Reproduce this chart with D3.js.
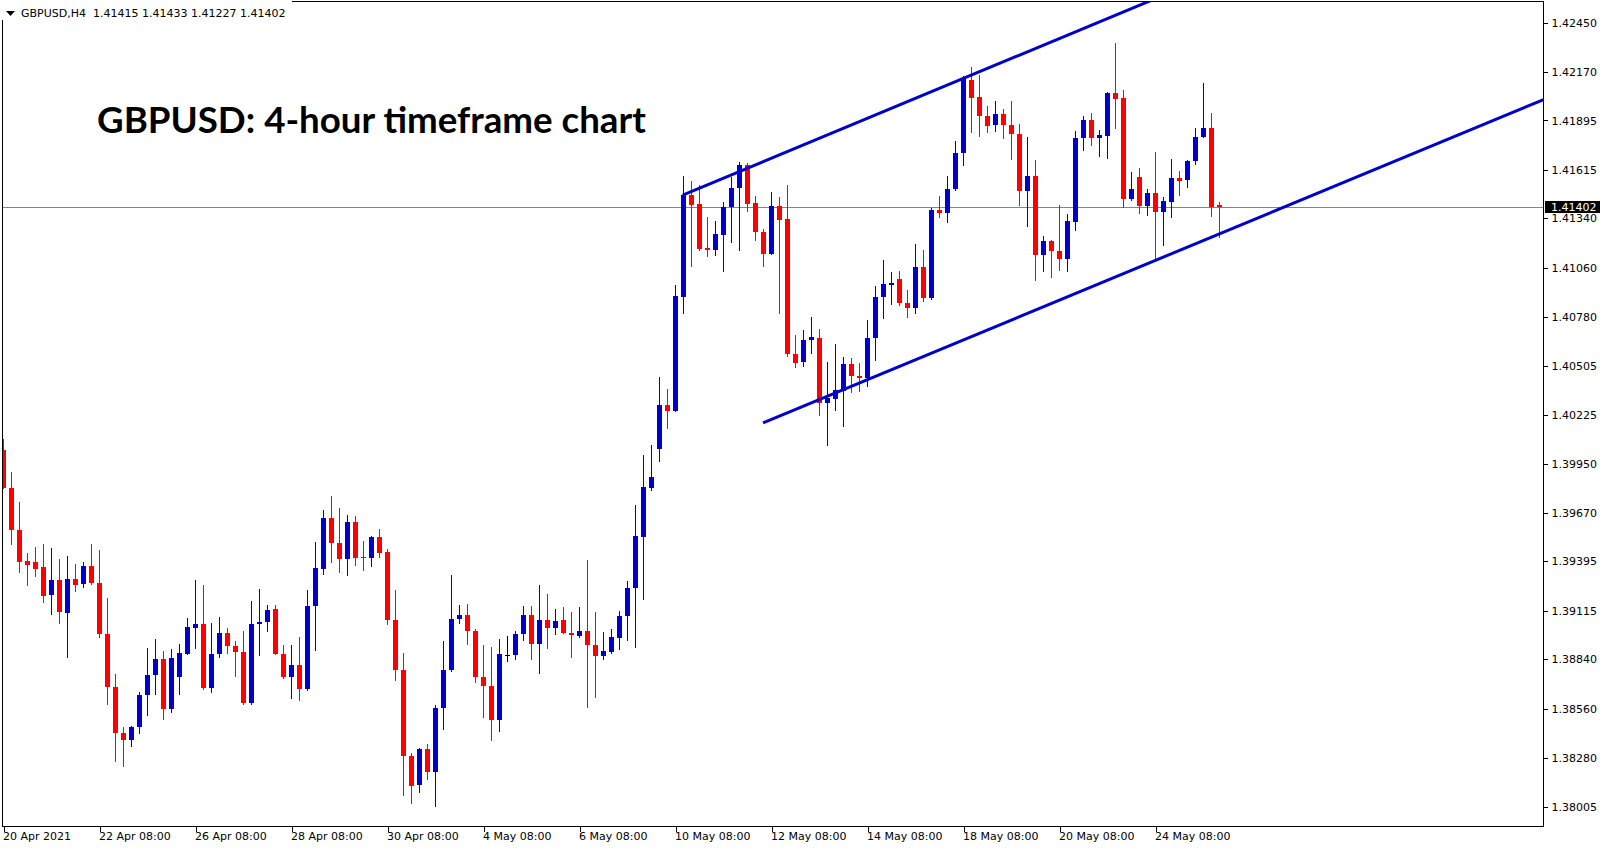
<!DOCTYPE html>
<html><head><meta charset="utf-8">
<script src="https://cdn.jsdelivr.net/npm/d3@7"></script>
<style>
html,body{margin:0;padding:0;background:#fff;overflow:hidden;}
svg{display:block;}
</style></head><body>
<svg id="chart" width="1607" height="850"></svg>
<script>
// ---------- DATA ----------
const symbolLabel = "GBPUSD,H4";
const title = "GBPUSD: 4-hour timeframe chart";
const opens = [1.40027,1.39811,1.39573,1.39395,1.39390,1.39363,1.39204,1.39290,1.39102,1.39295,
1.39265,1.39369,1.39275,1.38983,1.38683,1.38425,1.38385,1.38456,1.38637,1.38751,
1.38842,1.38558,1.38740,1.38870,1.39020,1.39040,1.38677,1.38870,1.38989,1.38915,
1.38881,1.38592,1.39040,1.39051,1.39125,1.38873,1.38740,1.38808,1.38671,1.39142,
1.39352,1.39641,1.39499,1.39409,1.39618,1.39420,1.39415,1.39533,1.39448,1.39063,
1.38779,1.38292,1.38125,1.38331,1.38201,1.38564,1.38779,1.39068,1.39094,1.39003,
1.38740,1.38688,1.38496,1.38864,1.38864,1.38983,1.39091,1.38927,1.39063,1.39017,
1.39062,1.38992,1.38975,1.39000,1.38921,1.38859,1.38884,1.38963,1.39085,1.39244,
1.39536,1.39814,1.40032,1.40282,1.40248,1.40895,1.41470,1.41420,1.41172,1.41158,
1.41248,1.41402,1.41510,1.41643,1.41425,1.41263,1.41138,1.41410,1.41334,1.40571,
1.40523,1.40648,1.40664,1.40296,1.40318,1.40364,1.40512,1.40448,1.40435,1.40660,
1.40892,1.40965,1.40996,1.40862,1.40830,1.41064,1.40888,1.41387,1.41370,1.41506,
1.41708,1.42125,1.42030,1.41923,1.41868,1.41932,1.41872,1.41821,1.41495,1.41580,
1.41132,1.41212,1.41155,1.41110,1.41322,1.41793,1.41900,1.41798,1.41805,1.42050,
1.42022,1.41450,1.41575,1.41410,1.41484,1.41379,1.41435,1.41569,1.41555,1.41665,
1.41801,1.41855,1.41415];
const highs = [1.40089,1.39902,1.39732,1.39443,1.39477,1.39494,1.39471,1.39409,1.39426,1.39380,
1.39392,1.39494,1.39460,1.39187,1.38757,1.38456,1.38462,1.38654,1.38904,1.38955,
1.38887,1.38898,1.38927,1.39074,1.39290,1.39261,1.39046,1.39080,1.39017,1.38944,
1.39000,1.39170,1.39238,1.39148,1.39148,1.38921,1.38921,1.38966,1.39233,1.39505,
1.39686,1.39766,1.39698,1.39658,1.39652,1.39511,1.39539,1.39579,1.39465,1.39233,
1.38876,1.38309,1.38337,1.38360,1.38581,1.38944,1.39318,1.39148,1.39153,1.39012,
1.38921,1.38910,1.38955,1.38972,1.39000,1.39142,1.39142,1.39261,1.39210,1.39125,
1.39136,1.39108,1.39136,1.39403,1.39108,1.38995,1.39012,1.39114,1.39284,1.39715,
1.39998,1.40055,1.40441,1.40372,1.40962,1.41580,1.41552,1.41529,1.41348,1.41325,
1.41433,1.41575,1.41660,1.41654,1.41467,1.41280,1.41490,1.41461,1.41529,1.40679,
1.40707,1.40781,1.40713,1.40526,1.40628,1.40554,1.40548,1.40520,1.40764,1.40957,
1.41104,1.41036,1.41042,1.40934,1.41195,1.41161,1.41399,1.41467,1.41580,1.41779,
1.42147,1.42198,1.42153,1.41977,1.42005,1.41960,1.42005,1.41875,1.41801,1.41671,
1.41240,1.41215,1.41416,1.41365,1.41835,1.41920,1.41937,1.41841,1.42055,1.42334,
1.42068,1.41603,1.41626,1.41506,1.41716,1.41461,1.41677,1.41609,1.41671,1.41852,
1.42108,1.41937,1.41433];
const lows = [1.39805,1.39488,1.39329,1.39255,1.39307,1.39159,1.39091,1.39040,1.38847,1.39221,
1.39244,1.39261,1.38961,1.38581,1.38258,1.38229,1.38343,1.38416,1.38518,1.38637,
1.38496,1.38535,1.38637,1.38864,1.38898,1.38666,1.38649,1.38847,1.38870,1.38740,
1.38581,1.38581,1.38859,1.38995,1.38864,1.38728,1.38615,1.38603,1.38660,1.38887,
1.39318,1.39386,1.39329,1.39312,1.39369,1.39341,1.39363,1.39414,1.39034,1.38717,
1.38065,1.38019,1.38082,1.38156,1.38002,1.38439,1.38768,1.39040,1.38921,1.38706,
1.38507,1.38377,1.38428,1.38825,1.38836,1.38944,1.38836,1.38757,1.38898,1.38978,
1.38983,1.38847,1.38961,1.38564,1.38620,1.38836,1.38870,1.38893,1.38944,1.38904,
1.39176,1.39794,1.39959,1.40146,1.40245,1.40798,1.41064,1.41155,1.41121,1.41127,
1.41036,1.41200,1.41155,1.41376,1.41212,1.41064,1.41135,1.40798,1.40554,1.40492,
1.40497,1.40571,1.40219,1.40049,1.40248,1.40157,1.40350,1.40355,1.40384,1.40531,
1.40769,1.40849,1.40843,1.40775,1.40798,1.40866,1.40877,1.41342,1.41314,1.41495,
1.41637,1.41824,1.41801,1.41824,1.41830,1.41790,1.41671,1.41410,1.41291,1.40985,
1.41036,1.41002,1.41042,1.41036,1.41268,1.41722,1.41750,1.41688,1.41677,1.41847,
1.41399,1.41438,1.41365,1.41353,1.41110,1.41183,1.41342,1.41467,1.41512,1.41643,
1.41798,1.41348,1.41227];
const closes = [1.39811,1.39573,1.39392,1.39375,1.39352,1.39199,1.39290,1.39108,1.39295,1.39261,
1.39369,1.39272,1.38983,1.38683,1.38422,1.38382,1.38456,1.38637,1.38751,1.38842,
1.38558,1.38847,1.38876,1.39023,1.39040,1.38677,1.38870,1.38989,1.38915,1.38881,
1.38592,1.39040,1.39051,1.39119,1.38870,1.38740,1.38808,1.38671,1.39142,1.39358,
1.39641,1.39499,1.39409,1.39618,1.39414,1.39415,1.39533,1.39443,1.39063,1.38779,
1.38292,1.38121,1.38331,1.38201,1.38564,1.38779,1.39068,1.39091,1.39000,1.38740,
1.38688,1.38496,1.38870,1.38864,1.38983,1.39091,1.38927,1.39063,1.39017,1.39057,
1.38989,1.38978,1.39000,1.38921,1.38859,1.38887,1.38966,1.39085,1.39244,1.39539,
1.39817,1.39873,1.40282,1.40248,1.40900,1.41472,1.41416,1.41166,1.41158,1.41251,
1.41404,1.41512,1.41643,1.41421,1.41263,1.41138,1.41410,1.41331,1.40571,1.40520,
1.40650,1.40666,1.40293,1.40321,1.40367,1.40514,1.40446,1.40435,1.40661,1.40894,
1.40968,1.40974,1.40860,1.40832,1.41064,1.40888,1.41387,1.41370,1.41506,1.41711,
1.42130,1.42022,1.41920,1.41864,1.41932,1.41869,1.41818,1.41495,1.41580,1.41132,
1.41212,1.41155,1.41110,1.41325,1.41796,1.41898,1.41796,1.41813,1.42050,1.42017,
1.41450,1.41506,1.41410,1.41484,1.41376,1.41438,1.41569,1.41552,1.41665,1.41801,
1.41852,1.41404,1.41402];
const xTickBars = [0,12,24,36,48,60,72,84,96,108,120,132,144];
const xTickLabels = ["20 Apr 2021","22 Apr 08:00","26 Apr 08:00","28 Apr 08:00","30 Apr 08:00",
"4 May 08:00","6 May 08:00","10 May 08:00","12 May 08:00","14 May 08:00","18 May 08:00",
"20 May 08:00","24 May 08:00"];
const yTickLabels = ["1.42450","1.42170","1.41895","1.41615","1.41340","1.41060","1.40780",
"1.40505","1.40225","1.39950","1.39670","1.39395","1.39115","1.38840","1.38560","1.38280","1.38005"];
const lastPrice = 1.41402;
const upperChannel = [{bar:84.9, price:1.41472},{bar:145, price:1.42605}];
const lowerChannel = [{bar:94.94, price:1.40180},{bar:193, price:1.42023}];

// ---------- LAYOUT ----------
const W = 1607, H = 850;
const plot = {left:2, top:1, right:1543, bottom:826};
const BLUE = "#0000CD", RED = "#FF0000";
const FONT = "'DejaVu Sans', sans-serif";

const svg = d3.select("#chart");
svg.append("rect").attr("width",W).attr("height",H).attr("fill","#fff");

const n = opens.length;
const x = d3.scaleLinear().domain([0, n-1]).range([3.5, 3.5 + 8*(n-1)]);
const y = d3.scaleLinear().domain([1.38005, 1.42450]).range([806.6, 22.6]);

svg.append("clipPath").attr("id","plotClip").append("rect")
  .attr("x", plot.left+1).attr("y", plot.top+1)
  .attr("width", plot.right-plot.left-1).attr("height", plot.bottom-plot.top-1);

const g = svg.append("g").attr("clip-path","url(#plotClip)");

// title
const t = g.append("text").text(title)
  .attr("x", 97).attr("y", 133)
  .attr("font-family","Lato, 'Open Sans', sans-serif").attr("font-weight","bold")
  .attr("font-size",36).attr("fill","#000");
const tw = t.node().getComputedTextLength();
t.attr("font-size", 36*549/tw);

// bid line
const yb = Math.round(y(lastPrice)) + 0.5;
g.append("line").attr("x1",plot.left).attr("x2",plot.right).attr("y1",yb).attr("y2",yb)
  .attr("stroke","#778899").attr("stroke-width",1);

// candles
const data = d3.range(n).map(i => ({i, o:opens[i], h:highs[i], l:lows[i], c:closes[i]}));
const col = d => d.c > d.o ? BLUE : (d.c < d.o ? RED : "#000");
const cg = g.append("g").attr("shape-rendering","crispEdges");
cg.selectAll("rect.wick").data(data).join("rect").attr("class","wick")
  .attr("x", d => x(d.i)-0.5).attr("width",1)
  .attr("y", d => Math.round(y(d.h)))
  .attr("height", d => Math.max(1, Math.round(y(d.l)) - Math.round(y(d.h))))
  .attr("fill", col);
cg.selectAll("rect.body").data(data).join("rect").attr("class","body")
  .attr("x", d => x(d.i)-2.5).attr("width",5)
  .attr("y", d => Math.round(y(Math.max(d.o,d.c))))
  .attr("height", d => Math.max(1, Math.round(y(Math.min(d.o,d.c))) - Math.round(y(Math.max(d.o,d.c)))))
  .attr("fill", col);

// channel lines
const line = d3.line().x(d => x(d.bar)).y(d => y(d.price));
[upperChannel, lowerChannel].forEach(ch => {
  g.append("path").attr("d", line(ch)).attr("fill","none")
   .attr("stroke", BLUE).attr("stroke-width",3);
});

// border
svg.append("rect").attr("x",plot.left+0.5).attr("y",plot.top+0.5)
  .attr("width",plot.right-plot.left).attr("height",plot.bottom-plot.top)
  .attr("fill","none").attr("stroke","#000").attr("stroke-width",1)
  .attr("shape-rendering","crispEdges");

// y axis
const yAxis = d3.axisRight(y).tickValues(yTickLabels.map(Number))
  .tickFormat((d,i) => yTickLabels[i]).tickSize(4).tickPadding(4);
const ya = svg.append("g").attr("transform",`translate(${plot.right+0.5},0)`).call(yAxis);
ya.select(".domain").remove();
ya.selectAll("text").attr("font-family",FONT).attr("font-size",11).attr("fill","#000");
ya.selectAll("line").attr("stroke","#000").attr("shape-rendering","crispEdges");

// x axis
const xAxis = d3.axisBottom(x).tickValues(xTickBars)
  .tickFormat((d,i) => xTickLabels[i]).tickSize(5);
const xa = svg.append("g").attr("transform",`translate(0,${plot.bottom+0.5})`).call(xAxis);
xa.select(".domain").remove();
xa.selectAll("text").attr("font-family",FONT).attr("font-size",11).attr("fill","#000")
  .attr("text-anchor","start").attr("x",-1).attr("y",13.5).attr("dy",0);
xa.selectAll("line").attr("stroke","#000").attr("shape-rendering","crispEdges");

// last price tag
const ly = Math.round(y(lastPrice));
svg.append("rect").attr("x",plot.right+2).attr("y",ly-6).attr("width",55).attr("height",12)
  .attr("fill","#000").attr("shape-rendering","crispEdges");
svg.append("text").text(lastPrice.toFixed(5)).attr("x",plot.right+8).attr("y",ly+4)
  .attr("font-family",FONT).attr("font-size",11).attr("fill","#fff");

// header label
svg.append("rect").attr("x",0).attr("y",0).attr("width",292).attr("height",20).attr("fill","#fff");
svg.append("path").attr("d","M6,11L15,11L10.5,16Z").attr("fill","#000");
svg.append("text").text(symbolLabel).attr("x",21).attr("y",17)
  .attr("font-family",FONT).attr("font-size",11).attr("fill","#000");
svg.append("text").text([opens[n-1],highs[n-1],lows[n-1],closes[n-1]].map(v=>v.toFixed(5)).join(" "))
  .attr("x",93).attr("y",17)
  .attr("font-family",FONT).attr("font-size",11).attr("fill","#000");
</script>
</body></html>
